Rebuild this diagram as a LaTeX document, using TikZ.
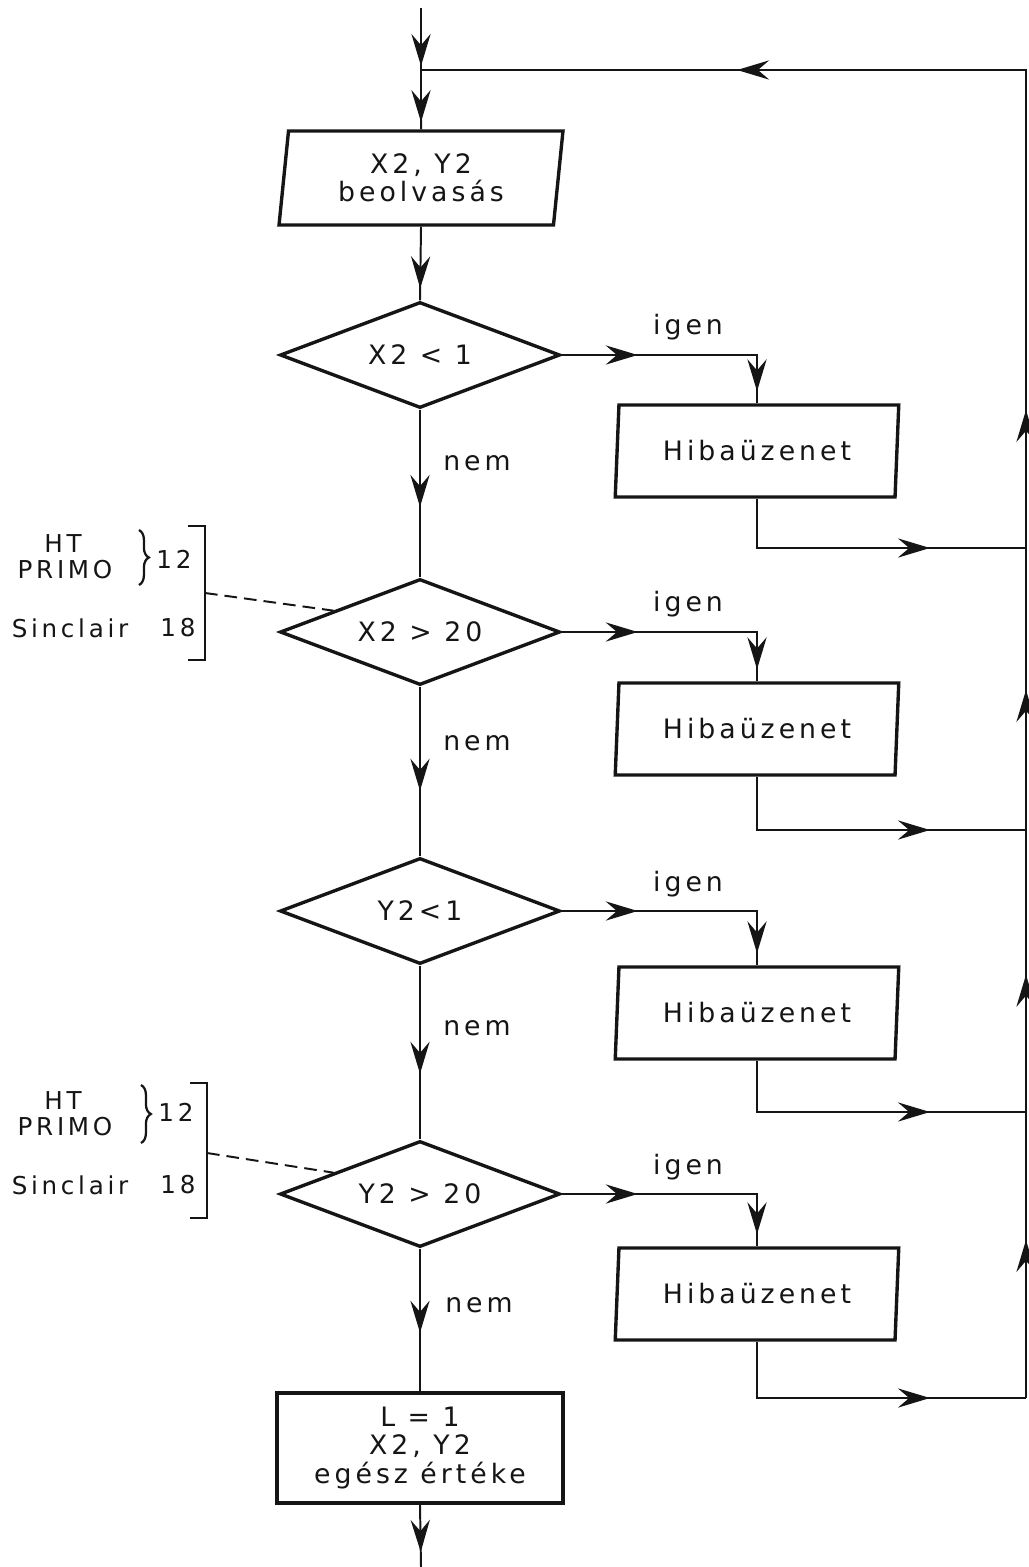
\documentclass[tikz,border=0pt]{standalone}
\usepackage{fontspec}
\setmainfont[LetterSpace=15]{DejaVu Sans}
\usepackage{tikz}
\usetikzlibrary{arrows.meta,shapes.geometric,decorations.markings,decorations.pathreplacing,calc}
\definecolor{fcInk}{HTML}{151515}
\tikzset{
  flowtip/.tip={Stealth[length=8mm,width=4.8mm,inset=2.8mm]},
  box/.style={draw=fcInk,line width=2.4pt,align=center,text=fcInk,
    font=\fontsize{19}{20}\selectfont,inner sep=0pt},
  iobox/.style={box,trapezium,trapezium left angle=83,trapezium right angle=97,
    trapezium stretches=true,minimum width=7.1cm,minimum height=2.35cm},
  procbox/.style={box,rectangle,minimum width=7.15cm,minimum height=2.75cm},
  test/.style={box,diamond,aspect=2.6,minimum width=7cm,minimum height=2.65cm},
  flow/.style={draw=fcInk,line width=1.4pt},
  tipat/.style={postaction={decorate,decoration={markings,
    mark=at position #1 with {\arrow[fcInk]{flowtip}}}}},
  note/.style={font=\fontsize{19}{22}\selectfont,text=fcInk,inner sep=0pt},
  small/.style={note,font=\fontsize{17.5}{20}\selectfont},
  leader/.style={draw=fcInk,line width=1.4pt,dash pattern=on 9pt off 5pt},
  curly/.style={draw=fcInk,line width=1.6pt,decorate,decoration={brace,amplitude=7pt}},
}

\begin{document}
\begin{tikzpicture}[x=0.025cm,y=-0.025cm]
  \useasboundingbox (0,0) rectangle (1028,1567);
  % main column
  \coordinate (entry) at (421,8);
  \coordinate (join) at (421,70);
  \node[iobox] (read) at (421,178) {X2, Y2\\beolvasás};
  \node[test] (t1) at (420,355) {X2 < 1};
  \node[test] (t2) at (420,632) {X2 > 20};
  \node[test] (t3) at (420,911) {Y2<1};
  \node[test] (t4) at (420,1194) {Y2 > 20};
  \node[procbox] (done) at (420,1448) {L = 1\\X2, Y2\\egész értéke};
  \coordinate (exit) at (421,1567);
  % error branch
  \node[iobox,minimum height=2.3cm] (e1) at (757,451) {Hibaüzenet};
  \node[iobox,minimum height=2.3cm] (e2) at (757,729) {Hibaüzenet};
  \node[iobox,minimum height=2.3cm] (e3) at (757,1013) {Hibaüzenet};
  \node[iobox,minimum height=2.3cm] (e4) at (757,1294) {Hibaüzenet};
  \coordinate (r1) at (1026,548);
  \coordinate (r2) at (1026,830);
  \coordinate (r3) at (1026,1112);
  \coordinate (r4) at (1026,1398);
  \coordinate (rtop) at (1026,70);

  \draw[flow,tipat=-0.1cm] (entry) -- (join);
  \draw[flow,tipat=-0.18cm] (join) -- (read.north);
  \draw[flow,tipat=-0.3cm] (read.south) -- (t1.north);
  \draw[flow,tipat=2.43cm] (t1.south) -- (t2.north);
  \draw[flow,tipat=2.6cm] (t2.south) -- (t3.north);
  \draw[flow,tipat=2.7cm] (t3.south) -- (t4.north);
  \draw[flow,tipat=2.1cm] (t4.south) -- (done.north);
  \draw[flow,tipat=1.18cm] (done.south) -- (exit);

  \draw[flow,tipat=1.9cm,tipat=-0.3cm] (t1.east) -| (e1.north);
  \draw[flow,tipat=1.9cm,tipat=-0.3cm] (t2.east) -| (e2.north);
  \draw[flow,tipat=1.9cm,tipat=-0.3cm] (t3.east) -| (e3.north);
  \draw[flow,tipat=1.9cm,tipat=-0.3cm] (t4.east) -| (e4.north);
  \draw[flow,tipat=-2.4cm] (e1.south) |- (r1);
  \draw[flow,tipat=-2.4cm] (e2.south) |- (r2);
  \draw[flow,tipat=-2.4cm] (e3.south) |- (r3);
  \draw[flow,tipat=-2.4cm] (e4.south) |- (r4);
  \draw[flow,tipat=3.95cm] (r4) -- (r3);
  \draw[flow,tipat=3.43cm] (r3) -- (r2);
  \draw[flow,tipat=3.5cm] (r2) -- (r1);
  \draw[flow,tipat=3.45cm,tipat=-7.9cm] (r1) -- (rtop) -- (join);

  \node[note] (yes1) at (688,327) {igen};
  \node[note] (yes2) at (688,604) {igen};
  \node[note] (yes3) at (688,884) {igen};
  \node[note] (yes4) at (688,1167) {igen};
  \node[note] (no1) at (477,463) {nem};
  \node[note] (no2) at (477,743) {nem};
  \node[note] (no3) at (477,1028) {nem};
  \node[note] (no4) at (479,1305) {nem};

  % machine limits, X2
  \node[small] (ht1) at (63,544) {HT};
  \node[small] (primo1) at (65,570) {PRIMO};
  \draw[curly] (139,530) -- (139,585);
  \node[small] (lim12a) at (174,559) {12};
  \node[small] (sinc1) at (70,628) {Sinclair};
  \node[small] (lim18a) at (178,628) {18};
  \coordinate (brk1) at (205,593);
  \draw[flow] (188,526) -| (205,660) -- (188,660);
  \draw[leader] (brk1) -- ($(t2.west)!0.39!(t2.north)$);

  % machine limits, Y2
  \node[small] (ht2) at (63,1101) {HT};
  \node[small] (primo2) at (65,1127) {PRIMO};
  \draw[curly] (141,1085) -- (141,1143);
  \node[small] (lim12b) at (176,1112) {12};
  \node[small] (sinc2) at (70,1185) {Sinclair};
  \node[small] (lim18b) at (178,1185) {18};
  \coordinate (brk2) at (207,1153);
  \draw[flow] (190,1083) -| (207,1218) -- (190,1218);
  \draw[leader] (brk2) -- ($(t4.west)!0.39!(t4.north)$);
\end{tikzpicture}
\end{document}
